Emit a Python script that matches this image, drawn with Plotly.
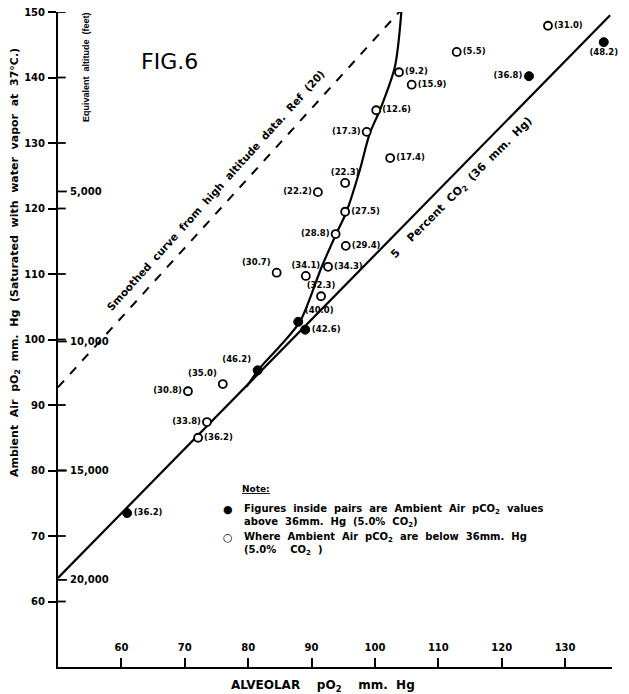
import plotly.graph_objects as go

# ---------------- data ----------------
open_x = [127.3, 112.9, 103.8, 105.8, 100.2, 98.7, 102.4, 95.3, 91.0, 95.3, 93.8, 95.4, 92.6, 89.1, 84.5, 91.5, 76.0, 70.5, 73.5, 72.1]
open_y = [147.9, 143.9, 140.8, 138.9, 135.0, 131.7, 127.7, 123.9, 122.5, 119.5, 116.1, 114.3, 111.1, 109.7, 110.2, 106.6, 93.2, 92.1, 87.4, 85.0]
open_lbl = ["(31.0)", "(5.5)", "(9.2)", "(15.9)", "(12.6)", "(17.3)", "(17.4)", "(22.3)", "(22.2)", "(27.5)",
            "(28.8)", "(29.4)", "(34.3)", "(34.1)", "(30.7)", "(32.3)", "(35.0)", "(30.8)", "(33.8)", "(36.2)"]
open_pos = ["middle right", "middle right", "middle right", "middle right", "middle right", "middle left",
            "middle right", "top center", "middle left", "middle right", "middle left", "middle right",
            "middle right", "top center", "top left", "top center", "top left", "middle left", "middle left",
            "middle right"]

fill_x = [136.1, 124.3, 87.9, 89.0, 81.5, 60.9]
fill_y = [145.4, 140.2, 102.7, 101.5, 95.3, 73.5]
fill_lbl = ["(48.2)", "(36.8)", "(40.0)", "(42.6)", "(46.2)", "(36.2)"]
fill_pos = ["bottom center", "middle left", "top right", "middle right", "top left", "middle right"]

# 5 percent CO2 (36 mm Hg) line
co2_x = [50.0, 137.1]
co2_y = [63.6, 149.5]

# smoothed curve from high altitude data (dashed)
smooth_x = [50.0, 104.2]
smooth_y = [92.7, 150.4]

# bounding curve of data
curve_x = [104.2, 103.15, 100.79, 99.21, 97.48, 95.43, 93.96, 91.59, 88.17, 85.02, 81.59, 79.76]
curve_y = [150.4, 141.65, 135.04, 131.53, 125.42, 119.31, 116.26, 111.07, 102.72, 99.0, 95.34, 92.79]

x_ticks = [60, 70, 80, 90, 100, 110, 120, 130]
y_ticks = [60, 70, 80, 90, 100, 110, 120, 130, 140, 150]
alt_vals = [122.6, 99.7, 80.0, 63.3]
alt_lbls = ["5,000", "10,000", "15,000", "20,000"]

FONT = "DejaVu Sans"
NARROW = "Liberation Sans"
INK = "black"
S = "\u00a0\u00a0"

fig = go.Figure()

fig.add_trace(go.Scatter(x=smooth_x, y=smooth_y, mode="lines", cliponaxis=False,
                         line=dict(color=INK, width=2, dash="dash"), hoverinfo="skip"))
fig.add_trace(go.Scatter(x=co2_x, y=co2_y, mode="lines", cliponaxis=False,
                         line=dict(color=INK, width=2.2), hoverinfo="skip"))
fig.add_trace(go.Scatter(x=curve_x, y=curve_y, mode="lines", cliponaxis=False,
                         line=dict(color=INK, width=2.2, shape="spline", smoothing=0.8), hoverinfo="skip"))
fig.add_trace(go.Scatter(x=open_x, y=open_y, mode="markers+text", text=open_lbl,
                         textposition=open_pos, cliponaxis=False,
                         textfont=dict(family=FONT, size=8.5, color=INK, weight="bold"),
                         marker=dict(symbol="circle", size=8, color="white",
                                     line=dict(color=INK, width=1.8))))
fig.add_trace(go.Scatter(x=fill_x, y=fill_y, mode="markers+text", text=fill_lbl,
                         textposition=fill_pos, cliponaxis=False,
                         textfont=dict(family=FONT, size=8.5, color=INK, weight="bold"),
                         marker=dict(symbol="circle", size=9, color=INK,
                                     line=dict(color=INK, width=1))))

shapes = []
for v in y_ticks:
    shapes.append(dict(type="line", xref="paper", yref="y", x0=0, x1=0.014, y0=v, y1=v,
                       line=dict(color=INK, width=1.8)))
for v in alt_vals:
    shapes.append(dict(type="line", xref="paper", yref="y", x0=0, x1=0.016, y0=v, y1=v,
                       line=dict(color=INK, width=1.8)))

annotations = []
for v, t in zip(alt_vals, alt_lbls):
    annotations.append(dict(xref="paper", yref="y", x=0.018, y=v, text=t, showarrow=False,
                            xanchor="left", yanchor="middle",
                            font=dict(family=FONT, size=10, color=INK, weight="bold")))

C = dict(xanchor="center", yanchor="middle", showarrow=False, xref="paper", yref="paper")
annotations += [
    dict(x=0.202, y=0.925, text="FIG.6", font=dict(family=FONT, size=22, color=INK), **C),
    dict(x=0.0505, y=0.916, text="Equivalent" + S + "altitude" + S + "(feet)", textangle=-90,
         font=dict(family=NARROW, size=9, color=INK, weight="bold"), **C),
    dict(x=0.285, y=0.728,
         text=S.join(["Smoothed", "curve", "from", "high", "altitude", "data.", "Ref", "(20)"]),
         textangle=-48, font=dict(family=FONT, size=10.5, color=INK, weight="bold"), **C),
    dict(x=0.729, y=0.731,
         text="5" + S + S + "Percent" + S + "CO<sub>2</sub>" + S + "(36" + S + "mm." + S + "Hg)",
         textangle=-45, font=dict(family=FONT, size=11, color=INK, weight="bold"), **C),
    dict(x=0.3285, y=0.272, text="<u>Note:</u>", xanchor="left", yanchor="middle", showarrow=False,
         xref="paper", yref="paper", font=dict(family=FONT, size=9, color=INK, weight="bold")),
    dict(x=0.307, y=0.2397, text="●", font=dict(family=FONT, size=11, color=INK), **C),
    dict(x=0.307, y=0.197, text="○", font=dict(family=FONT, size=11, color=INK, weight="bold"), **C),
    dict(x=0.332, y=0.2305, xanchor="left", yanchor="middle", align="left", showarrow=False,
         xref="paper", yref="paper",
         text=S.join(["Figures", "inside", "pairs", "are", "Ambient", "Air", "pCO<sub>2</sub>", "values"]) + "<br>"
              + S.join(["above", "36mm.", "Hg", "(5.0%", "CO<sub>2</sub>)"]),
         font=dict(family=FONT, size=10, color=INK, weight="bold")),
    dict(x=0.332, y=0.1878, xanchor="left", yanchor="middle", align="left", showarrow=False,
         xref="paper", yref="paper",
         text=S.join(["Where", "Ambient", "Air", "pCO<sub>2</sub>", "are", "below", "36mm.", "Hg"]) + "<br>"
              + S.join(["(5.0%", S + "CO<sub>2</sub>", ")"]),
         font=dict(family=FONT, size=10, color=INK, weight="bold")),
    dict(x=-0.078, y=0.618,
         text=S.join(["Ambient", "Air", "pO<sub>2</sub>", "mm.", "Hg", "(Saturated", "with", "water", "vapor", "at", "37°C.)"]),
         textangle=-90, font=dict(family=FONT, size=11, color=INK, weight="bold"), **C),
    dict(x=0.478, y=-0.029, text="ALVEOLAR" + S + S + "pO<sub>2</sub>" + S + S + "mm." + S + "Hg",
         font=dict(family=FONT, size=12, color=INK, weight="bold"), **C),
]

fig.update_layout(
    width=621, height=686,
    margin=dict(l=50, r=17, t=4, b=27),
    paper_bgcolor="white", plot_bgcolor="white",
    showlegend=False,
    shapes=shapes, annotations=annotations,
    xaxis=dict(range=[50, 137.4], showline=True, linecolor=INK, linewidth=2, automargin=False,
               showgrid=False, zeroline=False, ticks="inside", ticklen=9, tickwidth=1.5,
               tickcolor=INK, tickvals=x_ticks, ticklabelposition="inside", ticklabelstandoff=4,
               ticklabeloverflow="allow",
               tickfont=dict(family=FONT, size=10, color=INK, weight="bold")),
    yaxis=dict(range=[50, 150], showline=True, linecolor=INK, linewidth=2, automargin=False,
               showgrid=False, zeroline=False, ticks="outside", ticklen=8, tickwidth=1.8,
               tickcolor=INK, tickvals=y_ticks, ticklabelstandoff=1, ticklabeloverflow="allow",
               tickfont=dict(family=FONT, size=10, color=INK, weight="bold")),
)

fig.write_html("out.html")
